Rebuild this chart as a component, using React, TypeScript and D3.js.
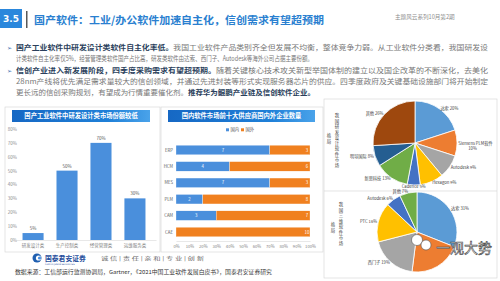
import React, { useEffect, useRef } from "react";
import {
  arc,
  axisBottom,
  axisLeft,
  pie,
  scaleBand,
  scaleLinear,
  select,
  stack,
  stackOffsetExpand,
} from "d3";

const FONT = "'Noto Sans CJK SC', 'Noto Sans', sans-serif";
const BAR_BLUE = "#4a8fdc";
const BAR_ORANGE = "#f0801f";
const GRID = "#d9d9d9";

// left: 国产工业软件中研发设计类市场份额较低
const softCategories = ["研发设计类", "生产控制类", "经营管理类", "运维服务类"];
const localShare = [5, 50, 70, 30];
const shareTicks = [0, 10, 20, 30, 40, 50, 60, 70, 80];

// middle: 国内软件市场前十大供应商国内外企业数量
const segments = ["ERP", "HCM", "MES", "PLM", "CAM", "CAE"];
const domesticFirms = [7, 4, 7, 2, 3, 0];
const foreignFirms = [3, 6, 3, 8, 7, 10];
const pctTicks = [0, 10, 20, 30, 40, 50, 60, 70, 80, 90, 100];

// right pies
const designVendors = ["达索", "Siemens PLM软件", "Autodesk", "Hexagon", "Cadence", "新思科技", "明导国际", "其他"];
const designShare = [20, 10, 9, 9, 5, 13, 8, 26];
const cadVendors = ["达索", "", "西门子", "PTC", "Autodesk", "其他"];
const cadShare = [31, 21, 19, 16, 6, 7];
const pieColors = ["#5b9bd5", "#ed7d31", "#a5a5a5", "#ffc000", "#4472c4", "#70ad47", "#255e91", "#9e480e"];

const AxisLeft = ({ scale, transform, ticks }) => {
  const ref = useRef(null);
  useEffect(() => {
    const g = select(ref.current);
    g.call(axisLeft(scale).tickValues(ticks).tickSize(0).tickPadding(3).tickFormat((d) => `${d}%`));
    g.select(".domain").remove();
    g.selectAll("text").attr("font-size", 4.5).attr("fill", "#8c8c8c").attr("font-family", FONT);
  }, [scale]);
  return <g ref={ref} transform={transform} />;
};

const AxisBottom = ({ scale, transform, ticks, format, size = 4.5 }) => {
  const ref = useRef(null);
  useEffect(() => {
    const g = select(ref.current);
    const ax = axisBottom(scale).tickSize(0).tickPadding(4);
    if (ticks) ax.tickValues(ticks);
    if (format) ax.tickFormat(format);
    g.call(ax);
    g.select(".domain").attr("stroke", GRID).attr("stroke-width", 0.6);
    g.selectAll("text").attr("font-size", size).attr("fill", "#7f7f7f").attr("font-family", FONT);
  }, [scale]);
  return <g ref={ref} transform={transform} />;
};

const Banner = ({ x, y, w, label, id }) => (
  <g>
    <defs>
      <linearGradient id={id} x1="0" x2="1">
        <stop offset="0" stopColor="#1668c4" />
        <stop offset="0.7" stopColor="#1f80d8" />
        <stop offset="1" stopColor="#4aa3ea" />
      </linearGradient>
    </defs>
    <rect x={x} y={y} width={w} height={12} fill={`url(#${id})`} />
    <text x={x + w / 2} y={y + 8.3} textAnchor="middle" fontSize={6.3} fontWeight="bold" fill="#fff" fontFamily={FONT}>
      {label}
    </text>
  </g>
);

// vertical (top-to-bottom) text, one glyph per line
const VText = ({ x, y, text, size = 4.4 }) => (
  <g fontSize={size} fill="#404040" fontFamily={FONT}>
    {Array.from(text).map((ch, i) => (
      <text key={i} x={x} y={y + i * size * 1.25} textAnchor="middle">
        {ch}
      </text>
    ))}
  </g>
);

const ShareBars = () => {
  const x = scaleBand().domain(softCategories).range([12, 156]).paddingInner(0.38).paddingOuter(0.31);
  const y = scaleLinear().domain([0, 80]).range([240, 129]);
  return (
    <g>
      <rect x={5} y={107} width={155} height={145} fill="#fff" stroke={GRID} strokeWidth={0.7} />
      <Banner x={12} y={110} w={138} id="bn1" label="国产工业软件中研发设计类市场份额较低" />
      <AxisLeft scale={y} ticks={shareTicks} transform="translate(20,0)" />
      {softCategories.map((c, i) => (
        <g key={c}>
          <rect x={x(c)} y={y(localShare[i])} width={x.bandwidth()} height={240 - y(localShare[i])} fill={BAR_BLUE} />
          <text x={x(c) + x.bandwidth() / 2} y={y(localShare[i]) - 3} textAnchor="middle" fontSize={4.5} fill="#595959" fontFamily={FONT}>
            {localShare[i]}%
          </text>
        </g>
      ))}
      <AxisBottom scale={x} transform="translate(0,240)" />
    </g>
  );
};

const FirmBars = () => {
  const rows = segments.map((s, i) => ({ seg: s, domestic: domesticFirms[i], foreign: foreignFirms[i] }));
  const series = stack().keys(["domestic", "foreign"]).offset(stackOffsetExpand)(rows);
  const x = scaleLinear().domain([0, 1]).range([176, 310]);
  const y = scaleBand().domain(segments).range([141.8, 240.2]).paddingInner(0.42).paddingOuter(0.21);
  const colors = [BAR_BLUE, BAR_ORANGE];
  return (
    <g>
      <rect x={161} y={107} width={162} height={145} fill="#fff" stroke={GRID} strokeWidth={0.7} />
      <Banner x={168} y={110} w={147} id="bn2" label="国内软件市场前十大供应商国内外企业数量" />
      <g fontFamily={FONT} fontSize={4.3} fill="#595959">
        <rect x={226} y={128.3} width={3} height={3} fill={BAR_BLUE} />
        <text x={230.5} y={131.2}>国内</text>
        <rect x={241} y={128.3} width={3} height={3} fill={BAR_ORANGE} />
        <text x={245.5} y={131.2}>国外</text>
      </g>
      {series.map((s, k) =>
        s.map((d, i) => (
          <g key={`${k}-${i}`}>
            <rect x={x(d[0])} y={y(segments[i])} width={x(d[1]) - x(d[0])} height={y.bandwidth()} fill={colors[k]} stroke="#fff" strokeWidth={0.3} />
            {d.data[k === 0 ? "domestic" : "foreign"] > 0 && (
              <text
                x={k === 0 ? (x(d[0]) + x(d[1])) / 2 : x(d[1]) - 3}
                y={y(segments[i]) + y.bandwidth() / 2 + 1.5}
                textAnchor="middle"
                fontSize={4.3}
                fill="#fff"
                fontFamily={FONT}
              >
                {d.data[k === 0 ? "domestic" : "foreign"]}
              </text>
            )}
          </g>
        ))
      )}
      {segments.map((s) => (
        <text key={s} x={173} y={y(s) + y.bandwidth() / 2 + 1.5} textAnchor="end" fontSize={4.3} fill="#595959" fontFamily={FONT}>
          {s}
        </text>
      ))}
      <AxisBottom scale={x} ticks={pctTicks.map((t) => t / 100)} format={(d) => `${Math.round(d * 100)}%`} transform="translate(0,241)" size={4.2} />
    </g>
  );
};

const Pie = ({ cx, cy, r, names, values, title }) => {
  const slices = pie().sort(null).value((d) => d)(values);
  const path = arc().innerRadius(0).outerRadius(r);
  const labelArc = arc().innerRadius(r * 1.03).outerRadius(r * 1.03);
  return (
    <g>
      {slices.map((s, i) => (
        <path key={i} d={path(s)} transform={`translate(${cx},${cy})`} fill={pieColors[i]} stroke="#fff" strokeWidth={0.8} />
      ))}
      {slices.map((s, i) => {
        if (!names[i]) return null;
        const [lx, ly] = labelArc.centroid(s);
        const anchor = lx > r * 0.15 ? "start" : lx < -r * 0.15 ? "end" : "middle";
        const two = names[i].length > 8;
        return (
          <text key={`l${i}`} x={cx + lx} y={cy + ly + 1.5} textAnchor={anchor} fontSize={4.2} fill="#404040" fontFamily={FONT}>
            {two ? (
              <>
                <tspan>{names[i]}</tspan>
                <tspan x={cx + lx + 10} dy={5}>{values[i]}%</tspan>
              </>
            ) : (
              `${names[i]} ${values[i]}%`
            )}
          </text>
        );
      })}
      <VText x={cx - r - 36} y={cy - 26} text={title} />
      <VText x={cx - r - 44} y={cy - 6} text="格局" />
    </g>
  );
};

const App = () => {
  return (
    <svg width={500} height={281} style={{ position: "fixed", left: 0, top: 0, background: "#fff" }}>
      {/* header */}
      <rect x={0} y={9} width={22} height={19} fill="#2a87dc" />
      <text x={11} y={22} textAnchor="middle" fontSize={9} fontWeight="bold" fill="#fff" fontFamily="'DejaVu Sans', sans-serif">3.5</text>
      <rect x={26} y={11} width={1.5} height={17} fill="#595959" />
      <text x={34} y={24} fontSize={10.6} fontWeight="bold" fill="#2a7fd0" fontFamily={FONT} textLength={290} lengthAdjust="spacingAndGlyphs">
        国产软件：工业/办公软件加速自主化，信创需求有望超预期
      </text>
      <text x={395} y={19} fontSize={5.6} fill="#8c8c8c" fontFamily={FONT}>主题风云系列10月第2期</text>

      {/* bullets */}
      <g fontFamily={FONT} fontSize={7.2} fill="#777">
        <text x={7} y={49.5} fill="#3a6fb0" fontSize={6}>➢</text>
        <text x={16} y={49.5} textLength={472} lengthAdjust="spacingAndGlyphs">
          <tspan fontWeight="bold" fill="#2b3f5c">国产工业软件中研发设计类软件自主化率低。</tspan>
          <tspan>我国工业软件产品类别齐全但发展不均衡，整体竞争力弱。从工业软件分类看，我国研发设</tspan>
        </text>
        <text x={16} y={60.5} textLength={297} lengthAdjust="spacingAndGlyphs">
          计类软件自主化率仅5%，经营管理类软件国产占比高，研发类软件由达索、西门子、Autodesk等海外公司占据主要份额。
        </text>
        <text x={7} y={72.5} fill="#3a6fb0" fontSize={6}>➢</text>
        <text x={16} y={72.5} textLength={472} lengthAdjust="spacingAndGlyphs">
          <tspan fontWeight="bold" fill="#2b3f5c">信创产业进入新发展阶段，四季度采购需求有望超预期。</tspan>
          <tspan>随着关键核心技术攻关新型举国体制的建立以及国企改革的不断深化，去美化</tspan>
        </text>
        <text x={16} y={83.5} textLength={472} lengthAdjust="spacingAndGlyphs">
          28nm产线将优先满足需求量较大的信创领域，并通过先进封装等形式实现服务器芯片的供应。四季度政府及关键基础设施部门将开始制定
        </text>
        <text x={16} y={94.5} textLength={299} lengthAdjust="spacingAndGlyphs">
          <tspan>更长远的信创采购规划，有望成为行情重要催化剂。</tspan>
          <tspan fontWeight="bold" fill="#2b3f5c">推荐华为鲲鹏产业链及信创软件企业。</tspan>
        </text>
      </g>

      <ShareBars />
      <FirmBars />

      {/* right pies */}
      <rect x={324} y={99} width={173} height={179} fill="#fff" stroke={GRID} strokeWidth={0.7} />
      <line x1={324} x2={497} y1={191} y2={191} stroke={GRID} strokeWidth={0.7} />
      <Pie cx={415} cy={143} r={42} names={designVendors} values={designShare} title="我国研发设计软件市场" />
      <Pie cx={417} cy={232} r={40} names={cadVendors} values={cadShare} title="我国三维软件市场" />

      {/* watermark */}
      <g>
        <circle cx={417} cy={240} r={5.5} fill="#fff" stroke="#555" strokeWidth={0.6} />
        <circle cx={426} cy={245} r={5} fill="#fff" stroke="#555" strokeWidth={0.6} />
        <text x={436} y={253} fontSize={14} fill="#fff" stroke="#444" strokeWidth={0.6} fontFamily={FONT}>一观大势</text>
      </g>

      {/* footer */}
      <circle cx={37} cy={258} r={4.5} fill="#1f5fb0" />
      <circle cx={38.5} cy={258} r={2.6} fill="#fff" />
      <circle cx={39.5} cy={258} r={1.6} fill="#4a90e2" />
      <text x={45} y={260.5} fontSize={6.8} fontWeight="bold" fill="#1f4e9c" fontFamily={FONT}>国泰君安证券</text>
      <text x={45} y={264.5} fontSize={2.2} fill="#1f4e9c" fontFamily="'DejaVu Sans', sans-serif">GUOTAI JUNAN SECURITIES</text>
      <text x={101} y={260} fontSize={4.8} fill="#666" fontFamily={FONT} textLength={103} lengthAdjust="spacingAndGlyphs">
        诚 信 | 责 任 | 亲 和 | 专 业 | 创 新
      </text>
      <text x={15} y={274} fontSize={5.3} fill="#333" fontFamily={FONT} textLength={257} lengthAdjust="spacingAndGlyphs">
        数据来源：工信部运行监测协调局，Gartner，《2021中国工业软件发展白皮书》，国泰君安证券研究
      </text>
    </svg>
  );
};

export default App;
